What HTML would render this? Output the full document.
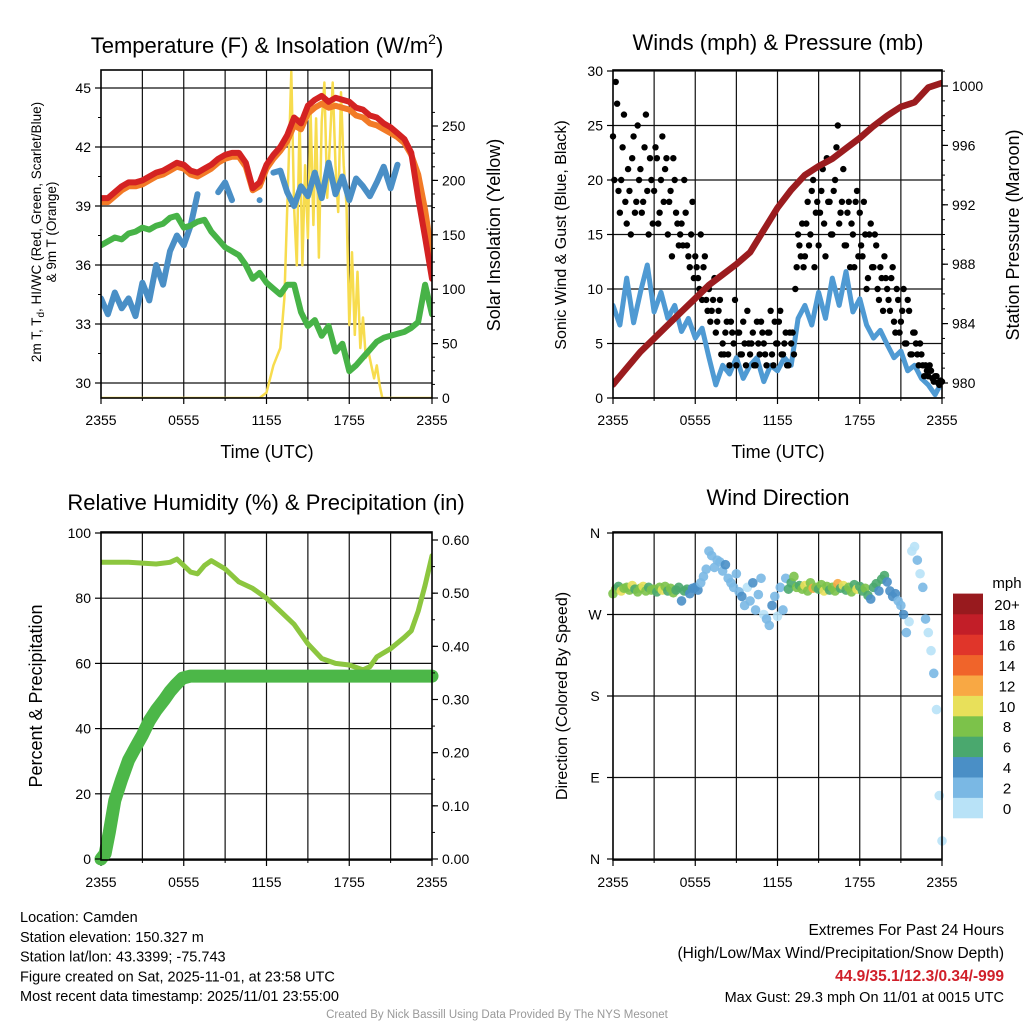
<!DOCTYPE html>
<html><head><meta charset="utf-8"><style>
html,body{margin:0;padding:0;background:#fff}
svg{display:block;font-family:"Liberation Sans",sans-serif}
</style></head><body>
<svg id="c" width="1024" height="1024" viewBox="0 0 1024 1024" xmlns="http://www.w3.org/2000/svg"></svg>
<script>
// ---------- DATA ----------
const xTickLabels = ["2355","0555","1155","1755","2355"];
const tempTicks = [30,33,36,39,42,45];
const insoTicks = [0,50,100,150,200,250];
const windTicks = [0,5,10,15,20,25,30];
const presTicks = [980,984,988,992,996,1000];
const rhTicks = [0,20,40,60,80,100];
const precipTicks = [0,0.1,0.2,0.3,0.4,0.5,0.6];
const dirTickLabels = ["N","E","S","W","N"];
const speedLabels = ["0","2","4","6","8","10","12","14","16","18","20+"];
const speedColors = ["#b8e2f7","#7ab8e4","#4a8fc6","#4aa86e","#7cc24a","#e8e05a","#f8a844","#f0642a","#e0352a","#c21e28","#981a1e"];
// half-hourly temperatures
const tempRed = [39.4,39.4,39.7,40.0,40.2,40.2,40.3,40.5,40.7,40.8,41.0,41.2,41.1,40.8,40.7,40.9,41.1,41.4,41.6,41.7,41.7,41.2,39.9,40.2,41.1,41.6,42.0,42.6,43.5,43.2,44.1,44.4,44.6,44.3,44.5,44.4,44.3,44.0,43.9,43.6,43.5,43.2,43.0,42.7,42.4,41.7,39.4,37.4,35.3];
const tempOrange = [39.2,39.2,39.5,39.8,40.0,40.0,40.1,40.3,40.5,40.6,40.8,41.0,40.9,40.6,40.5,40.7,40.9,41.2,41.4,41.5,41.5,41.0,39.8,40.0,40.9,41.4,41.8,42.3,43.1,42.9,43.7,44.0,44.2,44.0,44.1,44.0,43.9,43.6,43.5,43.2,43.1,42.9,42.7,42.5,42.2,41.6,40.6,38.8,36.5];
const dewGreen = [37.0,37.2,37.4,37.3,37.6,37.7,37.9,37.8,38.0,38.1,38.4,38.5,37.9,38.0,38.2,38.3,37.7,37.3,36.9,36.7,36.5,36.0,35.3,35.6,35.1,34.8,34.5,35.0,35.0,33.6,32.9,33.2,32.4,32.9,31.6,32.0,30.6,30.9,31.3,31.7,32.1,32.3,32.4,32.5,32.6,32.8,33.1,35.0,33.5];
const hiwcBlue = [34.3,33.5,34.6,33.8,34.3,33.4,35.1,34.2,36.0,35.0,36.7,37.5,37.0,38.0,39.6,null,null,39.7,40.2,39.3,null,null,null,39.3,null,40.7,40.8,39.7,39.0,40.0,39.5,40.7,39.4,41.2,39.6,40.5,39.3,40.4,40.0,39.5,40.2,41.0,39.9,41.1,null,null,null,null,null];
const insoHours = [0,11.5,12,12.5,13,13.3,13.6,13.8,14,14.2,14.4,14.6,14.8,15,15.2,15.4,15.6,15.8,16,16.2,16.4,16.6,16.8,17,17.2,17.4,17.6,17.8,18,18.2,18.4,18.6,18.8,19,19.2,19.4,19.6,19.8,20,20.2,20.4,24];
const insoValues = [0,0,5,30,46,92,214,300,175,122,257,122,214,147,263,159,257,129,254,290,184,235,290,214,171,281,214,177,67,134,58,116,46,74,37,42,30,18,30,12,0,0];
// hourly pressure
const pressure = [979.9,981.0,982.1,983.0,983.9,984.8,985.7,986.6,987.3,988.0,988.8,990.3,991.8,993.0,994.0,994.6,995.1,995.8,996.5,997.3,998.0,998.6,998.9,999.9,1000.2];
// half-hourly sustained wind
const windSpeed = [8.5,6.7,11.0,6.9,9.7,12.2,7.9,9.7,7.3,8.5,6.1,7.3,5.5,6.4,3.7,1.2,3.0,2.2,3.7,1.8,3.0,3.7,1.5,3.0,2.5,3.7,3.0,7.3,8.5,6.7,9.7,7.3,11.0,8.5,11.6,7.9,9.1,6.7,5.5,6.2,4.9,3.7,4.3,2.5,3.0,1.8,1.2,0.3,1.5];
// 0.2-hourly gusts (on the hour grid) and offset set (+0.1 h)
const windGust = [24,29,19,20,26, 16,19,22,17,25, 21,18,26,15,20, 19,22,17,24,21, 15,19,22,17,14, 16,20,14,12,18, 13,11,15,12,9, 10,8,11,7,9, 5,6,4,7,5, 3,6,4,5,8, 4,6,3,5,7, 5,3,6,4,7, 5,8,4,6,3, 5,4,12,14,16, 13,18,15,20,17, 14,19,16,22,18, 15,20,25,17,21, 14,18,16,12,19, 17,13,15,11,16, 12,14,9,11,13, 10,8,12,6,9, 7,10,5,8,4, 6,4,5,3,3, 2,2.5,1.5,2,1.2, 1.5];
const windGust2 = [20,27,17,23,18, 21,15,24,18,20, 17,23,19,22,16, 23,16,20,18,22, 18,13,20,16,15, 14,17,13,15,11, 12,10,9,13,8, 7,9,6,8,4, 4,7,3,6,9, 6,4,7,3,5, 5,3,7,4,6, 4,6,8,3,5, 7,4,5,3,6, 6,10,15,13,12, 16,14,19,12,18, 17,21,13,18,15, 19,23,16,18,14, 17,12,15,18,13, 14,18,10,15,12, 15,10,12,8,11, 9,11,7,10,6, 8,5,9,4,6, 5,3,4,2,2.5, 3,1.8,2,1.4,1.6];
// RH
const rhHours = [0,2,4,5,5.5,6,6.5,7,7.5,8,9,10,11,12,13,14,15,16,17,18,19,19.5,20,21,22,22.5,23,23.5,24];
const rhValues = [91,91,90.5,91,92,90,88,87.5,90,91.5,89,85,83,80,76,72,66,61.5,60,59.5,58,59,62,64.5,68,70,76,84,93];
const precipHours = [0,0.3,0.6,1,1.5,2,2.5,3,3.5,4,4.6,5,5.4,5.9,6.5,24];
const precipValues = [0,0.01,0.05,0.11,0.15,0.186,0.21,0.233,0.26,0.28,0.30,0.315,0.327,0.34,0.344,0.344];
// 0.2-hourly wind direction (deg) & speed (mph)
const windDir = [293,298,301,296,299, 300,297,302,298,295, 299,301,296,300,297, 298,295,300,297,301, 296,299,294,297,300, 285,296,298,293,299, 300,297,305,312,320, 340,335,322,330,328, 318,325,310,305,300, 315,295,290,280,300, 285,305,275,292,310, 270,265,258,280,290, 268,300,275,310,298, 305,312,300,302,298, 302,296,305,299,300, 298,303,296,301,297, 300,296,304,299,302, 297,300,295,303,298, 301,296,299,291,287, 300,304,296,309,313, 306,296,290,293,285, 280,270,250,262,340, 345,330,315,300,265, 250,230,205,165,70, 20];
const dirSpeed = [8,9,7,10,8, 9,8,10,7,9, 8,10,9,7,8, 9,7,8,10,8, 7,8,9,6,7, 5,6,6,5,4, 5,4,3,2,2, 2,2,3,2,2, 2,4,2,3,2, 2,3,4,2,1, 2,4,3,2,2, 1,3,2,4,2, 1,2,3,2,7, 6,8,9,7,8, 10,8,9,12,8, 7,9,10,8,6, 9,8,12,7,10, 6,8,9,6,10, 7,6,8,6,5, 7,6,5,6,7, 4,4,5,4,3, 3,4,2,1,1, 1,2,1,2,3, 1,1,3,1,1, 1];

// ---------- DRAWING ----------
const svg = document.getElementById('c');
const NS = "http://www.w3.org/2000/svg";
function el(tag, attrs, parent){
  const e = document.createElementNS(NS, tag);
  for (const k in attrs) e.setAttribute(k, attrs[k]);
  (parent||svg).appendChild(e);
  return e;
}
function txt(s, x, y, size, anchor, extra, parent){
  const t = el('text', Object.assign({x:x, y:y, 'font-size':size, 'text-anchor':anchor||'middle', fill:'#000'}, extra||{}), parent);
  t.textContent = s;
  return t;
}
function lin(d0,d1,r0,r1){ return v => r0 + (v-d0)*(r1-r0)/(d1-d0); }

const P1 = {x0:101,x1:432,y0:70,y1:398};
const P2 = {x0:613,x1:942,y0:70,y1:398};
const P3 = {x0:101,x1:432,y0:532,y1:860};
const P4 = {x0:613,x1:942,y0:532,y1:860};

function frame(p, name, hLines){
  const g = el('g', {});
  
  
  const sx = lin(0,24,p.x0,p.x1);
  for (let h=3; h<24; h+=3) el('line', {x1:sx(h), x2:sx(h), y1:p.y0, y2:p.y1, stroke:'#111', 'stroke-width':1.2}, g);
  hLines.forEach(y => el('line', {x1:p.x0, x2:p.x1, y1:y, y2:y, stroke:'#111', 'stroke-width':1.2}, g));
  for (let h=0; h<=24; h+=6){
    el('line', {x1:sx(h), x2:sx(h), y1:p.y1, y2:p.y1+6, stroke:'#000', 'stroke-width':1.2}, g);
  }
  for (let h=3; h<24; h+=6){
    el('line', {x1:sx(h), x2:sx(h), y1:p.y1, y2:p.y1+3, stroke:'#000', 'stroke-width':1}, g);
  }
  xTickLabels.forEach((s,i) => {
    const t = txt(s, sx(i*6), p.y1+27, 14, 'middle', {}, g);
    
    
  });
  return {g, sx};
}
function border(p, g){
  el('rect', {x:p.x0, y:p.y0, width:p.x1-p.x0, height:p.y1-p.y0, fill:'none', stroke:'#000', 'stroke-width':1.6}, g);
}
function yTicks(p, g, vals, sy, side, fmt, minorStep, vmin, vmax){
  const x = side==='left' ? p.x0 : p.x1;
  const dir = side==='left' ? -1 : 1;
  vals.forEach(v => {
    const y = sy(v);
    el('line', {x1:x, x2:x+dir*6, y1:y, y2:y, stroke:'#000', 'stroke-width':1.2}, g);
    const t = txt(fmt(v), x+dir*10, y+5, 14, side==='left'?'end':'start', {}, g);
    
    
  });
  if (minorStep){
    for (let v=vmin; v<=vmax+1e-9; v+=minorStep){
      const y = sy(v);
      if (y < p.y0-0.5 || y > p.y1+0.5) continue;
      el('line', {x1:x, x2:x+dir*3, y1:y, y2:y, stroke:'#000', 'stroke-width':1}, g);
    }
  }
}
function pathFrom(xs, ys){
  let d = '', pen = false;
  for (let i=0;i<xs.length;i++){
    if (ys[i]===null || ys[i]===undefined){ pen=false; continue; }
    d += (pen?'L':'M') + xs[i].toFixed(1) + ' ' + ys[i].toFixed(1) + ' ';
    if (!pen) d += 'l0 0 ';
    pen = true;
  }
  return d;
}
function series(g, name, hours, vals, sx, sy, color, w, clip){
  const p = el('path', {d: pathFrom(hours.map(sx), vals.map(v => v===null?null:sy(v))), fill:'none', stroke:color, 'stroke-width':w, 'stroke-linejoin':'round', 'stroke-linecap':'round', 'clip-path':clip||''}, g);
  
  
  return p;
}
const halfHours = windSpeed.map((_,i)=>i/2);
const hourly = pressure.map((_,i)=>i);
const fifthHours = windGust.map((_,i)=>i/5);
const fifthHours2 = windGust2.map((_,i)=>i/5+0.1);

const defs = el('defs', {});
[P1,P2,P3,P4].forEach((p,i) => {
  const cp = el('clipPath', {id:'clip'+(i+1)}, defs);
  el('rect', {x:p.x0, y:p.y0, width:p.x1-p.x0, height:p.y1-p.y0}, cp);
});

// ===== Panel 1 =====
{
  const syT = lin(30,45,383,88);
  const syI = lin(0,250,398,126);
  const {g, sx} = frame(P1, 'temperature-panel', tempTicks.map(syT));
  series(g, 'insolation-line', insoHours, insoValues, sx, syI, '#f7dc4e', 2.5, 'url(#clip1)');
  series(g, 'hiwc-line', halfHours, hiwcBlue, sx, syT, '#4a8fc6', 6, 'url(#clip1)');
  series(g, 'dewpoint-line', halfHours, dewGreen, sx, syT, '#47b347', 6, 'url(#clip1)');
  series(g, 'temp-9m-line', halfHours, tempOrange, sx, syT, '#f27a26', 6, 'url(#clip1)');
  series(g, 'temp-2m-line', halfHours, tempRed, sx, syT, '#d42222', 6, 'url(#clip1)');
  border(P1, g);
  yTicks(P1, g, tempTicks, syT, 'left', v=>String(v), 1.5, 28.5, 46);
  yTicks(P1, g, insoTicks, syI, 'right', v=>String(v), 12.5, 0, 262.5);
  const t1 = txt('', 267, 53, 22, 'middle', {});
  t1.innerHTML = 'Temperature (F) &amp; Insolation (W/m<tspan dy="-9" font-size="14">2</tspan><tspan dy="9">)</tspan>';
  
  
  const xl = txt('Time (UTC)', 267, 458, 18);
  
  
  const yl = el('text', {transform:'translate(41,232) rotate(-90)', 'font-size':13.5, 'text-anchor':'middle'});
  yl.innerHTML = '<tspan x="0" y="0">2m T, T<tspan font-size="10" dy="3">d</tspan><tspan dy="-3">, HI/WC (Red, Green, Scarlet/Blue)</tspan></tspan><tspan x="0" y="15">&amp; 9m T (Orange)</tspan>';
  
  
  const yr = el('text', {transform:'translate(500,235) rotate(-90)', 'font-size':18, 'text-anchor':'middle'});
  yr.textContent = 'Solar Insolation (Yellow)';
  
  
}
// ===== Panel 2 =====
{
  const syW = lin(0,30,398,71);
  const syP = lin(980,1000,383,86);
  const {g, sx} = frame(P2, 'winds-panel', windTicks.map(syW));
  series(g, 'sustained-wind-line', halfHours, windSpeed, sx, syW, '#4f9ad3', 5, 'url(#clip2)');
  windGust.forEach((v,i) => {
    const c = el('circle', {cx:sx(fifthHours[i]), cy:syW(v), r:3.2, fill:'#000'}, g);
    
    
  });
  windGust2.forEach((v,i) => {
    const c = el('circle', {cx:sx(fifthHours2[i]), cy:syW(v), r:3.2, fill:'#000'}, g);
    
    
  });
  series(g, 'pressure-line', hourly, pressure, sx, syP, '#9b1c1f', 6.5, 'url(#clip2)');
  border(P2, g);
  yTicks(P2, g, windTicks, syW, 'left', v=>String(v), 0, 0, 0);
  yTicks(P2, g, presTicks, syP, 'right', v=>String(v), 1, 979, 1001);
  const t = txt('Winds (mph) & Pressure (mb)', 778, 50, 22);
  
  
  const xl = txt('Time (UTC)', 778, 458, 18);
  
  
  const yl = el('text', {transform:'translate(566,235) rotate(-90)', 'font-size':16, 'text-anchor':'middle'});
  yl.textContent = 'Sonic Wind & Gust (Blue, Black)';
  
  
  const yr = el('text', {transform:'translate(1019,235) rotate(-90)', 'font-size':18, 'text-anchor':'middle'});
  yr.textContent = 'Station Pressure (Maroon)';
  
  
}
// ===== Panel 3 =====
{
  const syR = lin(0,100,859,533);
  const syPr = lin(0,0.6,859,540);
  const {g, sx} = frame(P3, 'humidity-panel', rhTicks.map(syR));
  series(g, 'rh-line', rhHours, rhValues, sx, syR, '#8cc63f', 5, 'url(#clip3)');
  series(g, 'precip-line', precipHours, precipValues, sx, syPr, '#4cb748', 13, '');
  border(P3, g);
  yTicks(P3, g, rhTicks, syR, 'left', v=>String(v), 0, 0, 0);
  yTicks(P3, g, precipTicks, syPr, 'right', v=>v.toFixed(2), 0.05, 0, 0.6);
  const t = txt('Relative Humidity (%) & Precipitation (in)', 266, 510, 22);
  
  
  const yl = el('text', {transform:'translate(42,696) rotate(-90)', 'font-size':18, 'text-anchor':'middle'});
  yl.textContent = 'Percent & Precipitation';
  
  
}
// ===== Panel 4 =====
{
  const syD = lin(0,360,859,533);
  const {g, sx} = frame(P4, 'wind-direction-panel', [0,90,180,270,360].map(syD));
  windDir.forEach((d,i) => {
    const s = dirSpeed[i];
    const idx = Math.min(10, Math.floor(s/2));
    const c = el('circle', {cx:sx(fifthHours[i]), cy:syD(d), r:4.8, fill:speedColors[idx], 'fill-opacity':0.9}, g);
    
    
  });
  border(P4, g);
  dirTickLabels.forEach((s,i) => {
    const y = syD(i*90);
    el('line', {x1:P4.x0, x2:P4.x0-6, y1:y, y2:y, stroke:'#000', 'stroke-width':1.2}, g);
    const t = txt(s, P4.x0-18, y+5, 14, 'middle', {}, g);
    
    
  });
  const t = txt('Wind Direction', 778, 505, 22);
  
  
  const yl = el('text', {transform:'translate(567,696) rotate(-90)', 'font-size':16, 'text-anchor':'middle'});
  yl.textContent = 'Direction (Colored By Speed)';
  
  
  const cb = el('g', {});
  
  
  const bh = 20.4;
  for (let i=0;i<11;i++){
    const y = 818 - (i+1)*bh;
    el('rect', {x:953, y:y, width:30, height:bh+0.3, fill:speedColors[i]}, cb);
    const lt = txt(speedLabels[i], 1007, y+bh/2+6, 15, 'middle', {}, cb);
    
    
  }
  txt('mph', 1007, 588, 15, 'middle', {}, cb);
}
// ===== Footer text =====
{
  const g = el('g', {});
  
  
  ["Location: Camden","Station elevation: 150.327 m","Station lat/lon: 43.3399; -75.743","Figure created on Sat, 2025-11-01, at 23:58 UTC","Most recent data timestamp: 2025/11/01 23:55:00"].forEach((s,i)=>{
    txt(s, 20, 922+i*19.8, 14.5, 'start', {}, g);
  });
  const r = el('g', {});
  
  
  txt('Extremes For Past 24 Hours', 1004, 935, 15.5, 'end', {}, r);
  txt('(High/Low/Max Wind/Precipitation/Snow Depth)', 1004, 958, 15.5, 'end', {}, r);
  txt('44.9/35.1/12.3/0.34/-999', 1004, 981, 15.5, 'end', {fill:'#d0202a','font-weight':'bold'}, r);
  txt('Max Gust: 29.3 mph On 11/01 at 0015 UTC', 1004, 1002, 14.5, 'end', {}, r);
  const f = txt('Created By Nick Bassill Using Data Provided By The NYS Mesonet', 497, 1018, 11.5, 'middle', {fill:'#999'});
  
  
}
</script>
</body></html>
